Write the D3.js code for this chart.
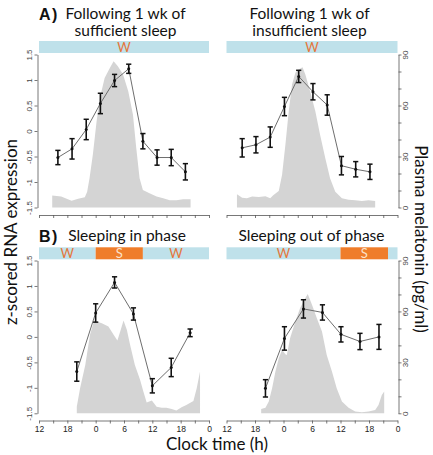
<!DOCTYPE html>
<html><head><meta charset="utf-8">
<script src="https://cdn.jsdelivr.net/npm/d3@7/dist/d3.min.js"></script>
<style>body{margin:0;background:#fff} svg{display:block}</style>
</head><body>
<svg id="c" width="433" height="455"></svg>
<script>
// ---------- data ----------
const xTickValues = [-12, -6, 0, 6, 12, 18, 24];
const xTickLabels = ["12", "18", "0", "6", "12", "18", "0"];
const zTickValues = [-1.5, -1, -0.5, 0, 0.5, 1, 1.5];
const zTickLabels = ["-1.5", "-1", "-0.5", "0", "0.5", "1", "1.5"];
const melTickValues = [0, 30, 60, 90];
const melTickLabels = ["0", "30", "60", "90"];

// Panel A left: sufficient sleep
const geneTimeA1 = [-8, -5, -2, 1, 4, 7, 10, 13, 16, 19];
const geneZA1 = [-0.52, -0.35, 0.03, 0.54, 0.99, 1.22, -0.2, -0.52, -0.52, -0.80];
const geneErrA1 = [0.14, 0.2, 0.2, 0.2, 0.12, 0.09, 0.15, 0.15, 0.16, 0.16];
const melTimeA1 = [-9.2, -7.3, -5.1, -3.7, -2.3, -1.8, -1.3, -0.6, 0.2, 0.9, 1.9, 3.0, 3.8, 4.7, 5.8, 6.9, 7.9, 8.6, 9.3, 10.0, 11.4, 12.9, 14.3, 15.7, 17.1, 18.5, 20.1];
const melA1 = [7.0, 6.4, 4.0, 5.2, 6.0, 9.3, 17.2, 31, 50.7, 64.4, 76.2, 82.1, 86.1, 83.1, 78.2, 68.4, 54.6, 34.9, 17.2, 10.3, 8.4, 6.4, 5.4, 4.2, 4.2, 4.8, 4.8];

// Panel A right: insufficient sleep
const geneTimeA2 = [-8.7, -5.8, -2.8, 0.2, 3.2, 6.2, 9.2, 12.2, 15.2, 18.2];
const geneZA2 = [-0.33, -0.27, -0.12, 0.48, 1.07, 0.77, 0.51, -0.68, -0.75, -0.80];
const geneErrA2 = [0.18, 0.16, 0.2, 0.18, 0.12, 0.16, 0.2, 0.18, 0.15, 0.15];
const melTimeA2 = [-9.8, -8.7, -7.7, -6.6, -5.2, -3.8, -2.8, -2.1, -1.0, -0.3, 0.4, 1.1, 1.8, 2.5, 3.2, 4.0, 4.6, 5.6, 6.7, 7.7, 8.8, 9.8, 10.9, 12.3, 13.7, 15.1, 16.5, 17.9, 19.3];
const melA2 = [7.8, 5.8, 5.4, 6.4, 6.2, 6.6, 5.4, 7.4, 9.7, 19.2, 36.9, 56.6, 72.3, 79.2, 81.2, 82.5, 78.2, 68.4, 56.6, 42.8, 29.0, 17.2, 9.3, 5.4, 4.6, 4.2, 3.8, 4.2, 3.8];

// Panel B left: sleeping in phase
const geneTimeB1 = [-4, 0, 4, 8, 12, 16, 20];
const geneZB1 = [-0.68, 0.47, 1.07, 0.45, -0.96, -0.6, 0.08];
const geneErrB1 = [0.19, 0.18, 0.11, 0.12, 0.14, 0.18, 0.075];
const melTimeB1 = [-4.0, -3.3, -2.2, -1.2, -0.5, 0.2, 1.3, 2.7, 3.8, 4.6, 5.2, 5.9, 6.6, 7.3, 8.3, 9.4, 10.1, 10.8, 11.9, 12.9, 14.0, 15.0, 16.1, 17.1, 18.2, 19.2, 20.7, 21.4, 22.1];
const melB1 = [3.9, 14.7, 28.5, 46.2, 53.1, 54.1, 53.1, 51.1, 46.2, 42.9, 48.2, 54.7, 49.2, 40.3, 28.5, 19.7, 12.8, 6.3, 7.5, 3.9, 3.3, 3.3, 2.5, 1.6, 3.5, 4.9, 7.3, 14.7, 24.6];

// Panel B right: sleeping out of phase
const geneTimeB2 = [-3.8, 0.2, 4.2, 8.2, 12.1, 16.1, 20.1];
const geneZB2 = [-1.01, -0.03, 0.55, 0.48, 0.05, -0.09, 0.0];
const geneErrB2 = [0.17, 0.23, 0.18, 0.15, 0.15, 0.16, 0.245];
const melTimeB2 = [-4.7, -3.8, -3.1, -2.4, -1.7, -1.0, -0.3, 0.4, 0.7, 1.4, 2.5, 3.5, 4.6, 5.1, 6.0, 7.0, 8.1, 9.1, 10.2, 11.2, 12.3, 13.7, 15.1, 16.5, 17.9, 19.3, 20.0, 20.7, 21.2];
const melB2 = [2.5, 3.3, 6.9, 14.7, 24.6, 32.4, 37.4, 34.8, 34.4, 44.3, 54.1, 62.0, 67.9, 70.2, 63.9, 56.1, 48.2, 34.4, 24.6, 14.7, 6.9, 3.3, 1.0, 0.6, 1.0, 1.9, 4.9, 10.8, 12.8];

// Sleep / wake schedule bars
const stateStartA1 = [-12], stateEndA1 = [24], stateA1 = ["W"];
const stateStartA2 = [-12], stateEndA2 = [24], stateA2 = ["W"];
const stateStartB1 = [-12, 0, 10], stateEndB1 = [0, 10, 24], stateB1 = ["W", "S", "W"];
const stateStartB2 = [-12, 12, 22], stateEndB2 = [12, 22, 24], stateB2 = ["W", "S", "W"];

const titleA1 = ["Following 1 wk of", "sufficient sleep"];
const titleA2 = ["Following 1 wk of", "insufficient sleep"];
const titleB1 = ["Sleeping in phase"];
const titleB2 = ["Sleeping out of phase"];

// ---------- styling / layout ----------
const COL = {W: "#bfe1ea", S: "#ef7d2a"};
const TXT = {W: "#e5763a", S: "#fbe3cc"};
const AREA = "#d4d4d4";
const LINE = "#6e6e6e";
const AX = "#555";
const TITLE_FONT = "Lato, 'Open Sans', sans-serif";
const TICK_FONT = "'Liberation Sans', Arial, sans-serif";

const svg = d3.select("#c");

const panels = [
  {gt: geneTimeA1, gz: geneZA1, ge: geneErrA1, mt: melTimeA1, mv: melA1,
   ss: stateStartA1, se: stateEndA1, st: stateA1, title: titleA1, tag: "A)",
   xr: [39, 209], yr: [207.5, 54.5], axisY: 215, barY: 41, left: true, right: false, xlab: false,
   tx: 125.5, ty: 18.5},
  {gt: geneTimeA2, gz: geneZA2, ge: geneErrA2, mt: melTimeA2, mv: melA2,
   ss: stateStartA2, se: stateEndA2, st: stateA2, title: titleA2, tag: null,
   xr: [226.5, 397.5], yr: [207.5, 54.5], axisY: 215, barY: 41, left: false, right: true, xlab: false,
   tx: 309.5, ty: 18.5},
  {gt: geneTimeB1, gz: geneZB1, ge: geneErrB1, mt: melTimeB1, mv: melB1,
   ss: stateStartB1, se: stateEndB1, st: stateB1, title: titleB1, tag: "B)",
   xr: [39, 209], yr: [413.3, 260.5], axisY: 420.5, barY: 247.3, left: true, right: false, xlab: true,
   tx: 127, ty: 241},
  {gt: geneTimeB2, gz: geneZB2, ge: geneErrB2, mt: melTimeB2, mv: melB2,
   ss: stateStartB2, se: stateEndB2, st: stateB2, title: titleB2, tag: null,
   xr: [226.5, 397.5], yr: [413.3, 260.5], axisY: 420.5, barY: 247.3, left: false, right: true, xlab: true,
   tx: 311.5, ty: 240.5}
];

panels.forEach(p => {
  const g = svg.append("g");
  const x = d3.scaleLinear().domain([-12, 24]).range(p.xr);
  const yz = d3.scaleLinear().domain([-1.5, 1.5]).range(p.yr);
  const ym = d3.scaleLinear().domain([0, 90]).range(p.yr);

  // sleep/wake bar
  const segs = p.ss.map((s, i) => ({s, e: p.se[i], st: p.st[i]}));
  g.selectAll("rect.bar").data(segs).enter().append("rect")
    .attr("x", d => x(d.s)).attr("width", d => x(d.e) - x(d.s))
    .attr("y", p.barY).attr("height", 12)
    .attr("fill", d => COL[d.st]);
  g.selectAll("text.bar").data(segs.filter(d => x(d.e) - x(d.s) > 20)).enter().append("text")
    .attr("x", d => x((d.s + d.e) / 2)).attr("y", p.barY + 10.5)
    .attr("text-anchor", "middle").attr("font-family", TITLE_FONT).attr("font-size", 13)
    .attr("fill", d => TXT[d.st]).text(d => d.st);

  // melatonin area
  const mel = p.mt.map((t, i) => ({t, v: p.mv[i]}));
  g.append("path").datum(mel)
    .attr("d", d3.area().x(d => x(d.t)).y0(ym(0)).y1(d => ym(d.v)))
    .attr("fill", AREA);

  // gene expression line
  const gene = p.gt.map((t, i) => ({t, z: p.gz[i], e: p.ge[i]}));
  g.append("path").datum(gene)
    .attr("d", d3.line().x(d => x(d.t)).y(d => yz(d.z)))
    .attr("fill", "none").attr("stroke", LINE).attr("stroke-width", 1);
  const eb = g.selectAll("g.eb").data(gene).enter().append("g");
  eb.append("line").attr("x1", d => x(d.t)).attr("x2", d => x(d.t))
    .attr("y1", d => yz(d.z - d.e)).attr("y2", d => yz(d.z + d.e))
    .attr("stroke", "#111").attr("stroke-width", 1.6);
  [1, -1].forEach(sg => {
    eb.append("line").attr("x1", d => x(d.t) - 2.6).attr("x2", d => x(d.t) + 2.6)
      .attr("y1", d => yz(d.z + sg * d.e)).attr("y2", d => yz(d.z + sg * d.e))
      .attr("stroke", "#111").attr("stroke-width", 1.5);
  });
  eb.append("circle").attr("cx", d => x(d.t)).attr("cy", d => yz(d.z)).attr("r", 1.5).attr("fill", "#111");

  // x axis
  const xa = g.append("g").attr("transform", `translate(0,${p.axisY})`)
    .call(d3.axisBottom(x).tickValues(d3.range(-12, 25, 3)).tickSize(3).tickSizeOuter(0)
      .tickFormat(d => {
        const i = xTickValues.indexOf(d);
        return (p.xlab && i >= 0) ? xTickLabels[i] : "";
      }));
  xa.select(".domain").attr("stroke", AX).attr("stroke-width", 0.8);
  xa.selectAll(".tick line").attr("stroke", AX).attr("stroke-width", 0.8);
  xa.selectAll(".tick text").attr("font-family", TICK_FONT).attr("font-size", 8.5).attr("fill", "#222").attr("y", 5).attr("dy", "0.71em");

  // left z axis
  if (p.left) {
    const ya = g.append("g").attr("transform", `translate(${p.xr[0] - 1.5},0)`)
      .call(d3.axisLeft(yz).tickValues(zTickValues).tickSize(3).tickSizeOuter(0)
        .tickFormat(d => zTickLabels[zTickValues.indexOf(d)]));
    ya.select(".domain").attr("stroke", AX).attr("stroke-width", 0.8);
    ya.selectAll(".tick line").attr("stroke", AX).attr("stroke-width", 0.8);
    ya.selectAll(".tick text").attr("font-family", TICK_FONT).attr("font-size", 8).attr("fill", "#444")
      .attr("transform", "rotate(-90)").attr("x", 0).attr("y", -5.5).attr("dy", 0).attr("text-anchor", "middle");
  }
  // right melatonin axis
  if (p.right) {
    const ra = g.append("g").attr("transform", `translate(${p.xr[1] + 1},0)`)
      .call(d3.axisRight(ym).tickValues(d3.range(0, 91, 10)).tickSize(3).tickSizeOuter(0)
        .tickFormat(d => {
          const i = melTickValues.indexOf(d);
          return i >= 0 ? melTickLabels[i] : "";
        }));
    ra.select(".domain").attr("stroke", AX).attr("stroke-width", 0.8);
    ra.selectAll(".tick line").attr("stroke", AX).attr("stroke-width", 0.8);
    ra.selectAll(".tick text").attr("font-family", TICK_FONT).attr("font-size", 8).attr("fill", "#444")
      .attr("transform", "rotate(-90)").attr("x", 0).attr("y", 9.5).attr("dy", 0).attr("text-anchor", "middle");
  }

  // titles
  if (p.tag) {
    svg.append("text").attr("x", 39).attr("y", p.ty + 1).attr("font-family", "'Liberation Sans', Arial, sans-serif")
      .attr("font-weight", "bold").attr("font-size", 16).attr("letter-spacing", 1.5).attr("fill", "#111").text(p.tag);
  }
  p.title.forEach((t, i) => {
    svg.append("text").attr("x", p.tx).attr("y", p.ty + i * 17.2).attr("text-anchor", "middle")
      .attr("font-family", TITLE_FONT).attr("font-size", 15.5).attr("fill", "#111").text(t);
  });
});

// axis titles
svg.append("text").attr("transform", "translate(17,232) rotate(-90)").attr("text-anchor", "middle")
  .attr("font-family", TITLE_FONT).attr("font-size", 17).attr("fill", "#111").text("z-scored RNA expression");
svg.append("text").attr("transform", "translate(415,239) rotate(90)").attr("text-anchor", "middle")
  .attr("font-family", TITLE_FONT).attr("font-size", 17).attr("fill", "#111").text("Plasma melatonin (pg/ml)");
svg.append("text").attr("x", 217).attr("y", 450).attr("text-anchor", "middle")
  .attr("font-family", TITLE_FONT).attr("font-size", 17).attr("fill", "#111").text("Clock time (h)");
</script>
</body></html>
